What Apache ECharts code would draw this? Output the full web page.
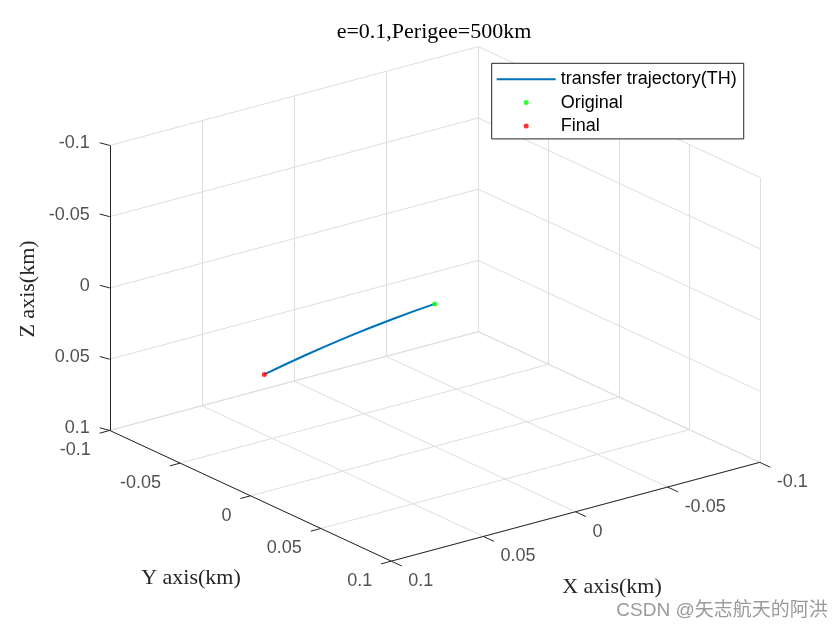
<!DOCTYPE html>
<html><head><meta charset="utf-8">
<script src="https://cdn.jsdelivr.net/npm/echarts@6/dist/echarts.min.js"></script>
<style>html,body{margin:0;padding:0;background:#fff}#c{width:840px;height:630px}</style>
</head><body><div id="c"></div>
<script>
// ---- data ----
const xLim = [-0.1, 0.1];
const yLim = [-0.1, 0.1];
const zLim = [-0.1, 0.1];
const xTicks = [-0.1, -0.05, 0, 0.05, 0.1];
const yTicks = [-0.1, -0.05, 0, 0.05, 0.1];
const zTicks = [-0.1, -0.05, 0, 0.05, 0.1];
const xTickLabels = ['-0.1', '-0.05', '0', '0.05', '0.1'];
const yTickLabels = ['-0.1', '-0.05', '0', '0.05', '0.1'];
const zTickLabels = ['-0.1', '-0.05', '0', '0.05', '0.1'];
const trajX = [0, 0.0116, 0.0231, 0.0347, 0.0463, 0.0578, 0.0694, 0.0809, 0.0925];
const trajY = [0, 0, 0, 0, 0, 0, 0, 0, 0];
const trajZ = [0, 0.00126, 0.00277, 0.00456, 0.0066, 0.00891, 0.01147, 0.01431, 0.0174];
const originalPt = [0, 0, 0];
const finalPt = [0.0925, 0, 0.0174];
const titleText = 'e=0.1,Perigee=500km';
const seriesNames = ['transfer trajectory(TH)', 'Original', 'Final'];

// ---- view (3D -> screen projection, MATLAB-like view) ----
const O = [434.75, 303.9];
const EX = [-1842.5, 494];
const EY = [1407.5, 653.5];
const EZ = [0, 1425];
function proj(x, y, z) {
  return [O[0] + x * EX[0] + y * EY[0] + z * EZ[0], O[1] + x * EX[1] + y * EY[1] + z * EZ[1]];
}
function seg(a, b) { return { coords: [proj(a[0], a[1], a[2]), proj(b[0], b[1], b[2])] }; }

const [x0, x1] = xLim, [y0, y1] = yLim, [z0, z1] = zLim;
const gridSegs = [];
// floor (z = z1)
xTicks.forEach(t => gridSegs.push(seg([t, y0, z1], [t, y1, z1])));
yTicks.forEach(t => gridSegs.push(seg([x0, t, z1], [x1, t, z1])));
// back-left wall (y = y0)
xTicks.forEach(t => gridSegs.push(seg([t, y0, z0], [t, y0, z1])));
zTicks.forEach(t => gridSegs.push(seg([x0, y0, t], [x1, y0, t])));
// back-right wall (x = x0)
yTicks.forEach(t => gridSegs.push(seg([x0, t, z0], [x0, t, z1])));
zTicks.forEach(t => gridSegs.push(seg([x0, y0, t], [x0, y1, t])));

const axisSegs = [
  seg([x1, y0, z0], [x1, y0, z1]),
  seg([x1, y0, z1], [x1, y1, z1]),
  seg([x1, y1, z1], [x0, y1, z1])
];
zTicks.forEach(t => axisSegs.push(seg([x1, y0, t], [x1 + 0.00144, y0 - 0.00522, t])));
yTicks.forEach(t => axisSegs.push(seg([x1, t, z1], [x1 + 0.0055, t, z1])));
xTicks.forEach(t => axisSegs.push(seg([t, y1, z1], [t, y1 + 0.0075, z1])));

const trajData = trajX.map((v, i) => proj(v, trajY[i], trajZ[i]));

function labelSeries(ticks, labels, fn, align, off) {
  return {
    type: 'scatter', silent: true, symbolSize: 1, z: 5,
    itemStyle: { color: 'rgba(0,0,0,0)' },
    data: ticks.map((t, i) => ({ value: fn(t), name: labels[i] })),
    label: {
      show: true, formatter: '{b}', position: [0.5, 0.5], offset: off,
      align: align, verticalAlign: 'middle',
      fontFamily: 'Liberation Sans', fontSize: 18, color: '#262626'
    }
  };
}

const option = {
  animation: false,
  backgroundColor: '#fff',
  grid: { left: 0, right: 0, top: 0, bottom: 0 },
  xAxis: { type: 'value', min: 0, max: 840, show: false },
  yAxis: { type: 'value', min: 0, max: 630, inverse: true, show: false },
  legend: {
    orient: 'vertical', left: 491.7, top: 63.3,
    data: [
      { name: seriesNames[0], icon: 'path://M0,0H59V2H0Z', itemStyle: { color: '#0072BD' } },
      { name: seriesNames[1] },
      { name: seriesNames[2] }
    ],
    itemWidth: 59, itemHeight: 5, itemGap: 5.3,
    padding: [7, 7, 4, 5],
    borderColor: '#262626', borderWidth: 1, backgroundColor: '#fff',
    textStyle: { fontFamily: 'Liberation Sans', fontSize: 18, color: '#000' },
    selectedMode: false
  },
  graphic: [
    { type: 'text', x: 434, y: 32, style: { text: titleText, font: '22px "Liberation Serif"', fill: '#000', textAlign: 'center', textVerticalAlign: 'middle' } },
    { type: 'text', x: 191, y: 578, style: { text: 'Y axis(km)', font: '22px "Liberation Serif"', fill: '#262626', textAlign: 'center', textVerticalAlign: 'middle' } },
    { type: 'text', x: 612, y: 587, style: { text: 'X axis(km)', font: '22px "Liberation Serif"', fill: '#262626', textAlign: 'center', textVerticalAlign: 'middle' } },
    { type: 'text', x: 28, y: 289, rotation: Math.PI / 2, style: { text: 'Z axis(km)', font: '22px "Liberation Serif"', fill: '#262626', textAlign: 'center', textVerticalAlign: 'middle' } },
    { type: 'text', x: 722, y: 611, z: 100, style: { text: 'CSDN @矢志航天的阿洪', font: '19px "Liberation Sans","Noto Sans CJK SC"', fill: '#9a9a9a', textAlign: 'center', textVerticalAlign: 'middle' } }
  ],
  series: [
    { type: 'lines', coordinateSystem: 'cartesian2d', silent: true, z: 1,
      lineStyle: { color: '#dedede', width: 1, opacity: 1 }, data: gridSegs },
    { type: 'lines', coordinateSystem: 'cartesian2d', silent: true, z: 2,
      lineStyle: { color: '#262626', width: 1, opacity: 1 }, data: axisSegs },
    labelSeries(zTicks, zTickLabels, t => proj(x1, y0, t), 'right', [-20, -2]),
    labelSeries(yTicks, yTickLabels, t => proj(x1, t, z1), 'right', [-19, 20]),
    labelSeries(xTicks, xTickLabels, t => proj(t, y1, z1), 'left', [17, 20]),
    { name: seriesNames[0], type: 'line', z: 10, data: trajData, showSymbol: false, symbol: 'none',
      lineStyle: { color: '#0072BD', width: 2 }, itemStyle: { color: '#0072BD' } },
    { name: seriesNames[1], type: 'scatter', z: 11, symbolSize: 5, itemStyle: { color: '#00ff00' },
      data: [proj(originalPt[0], originalPt[1], originalPt[2])] },
    { name: seriesNames[2], type: 'scatter', z: 11, symbolSize: 5, itemStyle: { color: '#ff0000' },
      data: [proj(finalPt[0], finalPt[1], finalPt[2])] }
  ]
};
const chart = echarts.init(document.getElementById('c'), null, { renderer: 'canvas' });
chart.setOption(option);
</script></body></html>
